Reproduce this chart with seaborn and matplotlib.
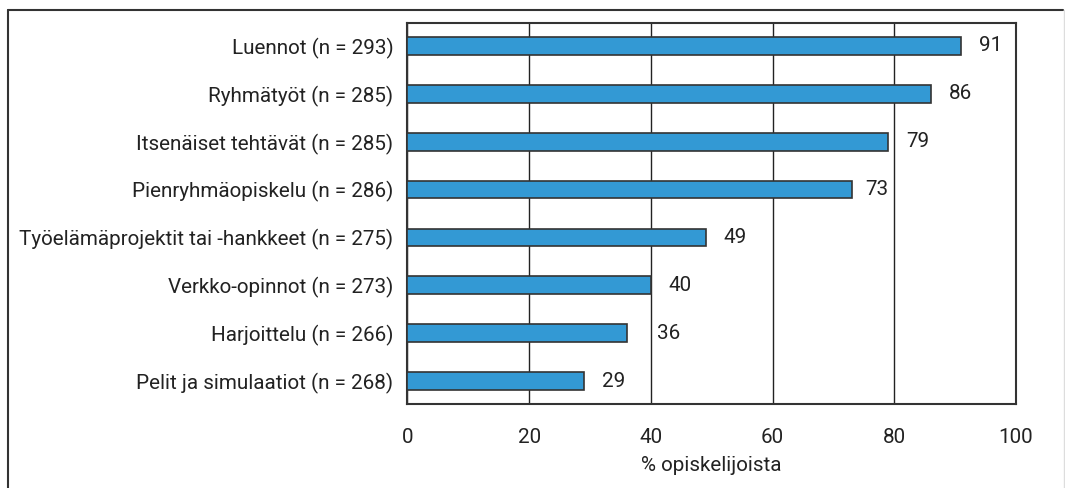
import matplotlib
matplotlib.use("Agg")
import matplotlib.pyplot as plt
import pandas as pd
import seaborn as sns
from matplotlib.lines import Line2D

categories = [
    "Luennot (n = 293)",
    "Ryhmätyöt (n = 285)",
    "Itsenäiset tehtävät (n = 285)",
    "Pienryhmäopiskelu (n = 286)",
    "Työelämäprojektit tai -hankkeet (n = 275)",
    "Verkko-opinnot (n = 273)",
    "Harjoittelu (n = 266)",
    "Pelit ja simulaatiot (n = 268)",
]
values = [91, 86, 79, 73, 49, 40, 36, 29]
x_ticks = [0, 20, 40, 60, 80, 100]

df = pd.DataFrame({"category": categories, "value": values})

sns.set_style("white")
plt.rcParams["font.family"] = ["Roboto", "DejaVu Sans"]
fs = 14.9
txt = "#222222"

fig = plt.figure(figsize=(10.65, 4.88), dpi=100)
ax = fig.add_axes([0.3826, 0.1721, 0.954 - 0.3826, 0.9529 - 0.1721])

sns.barplot(
    data=df, x="value", y="category", orient="h", ax=ax,
    color="#3399d4", saturation=1, width=0.37,
    edgecolor="#333333", linewidth=1.2, zorder=3,
)

# value labels, nudged so they don't sit on a gridline
label_w = 3.8
for i, v in enumerate(values):
    start = v + 2.9
    for g in x_ticks[1:-1]:
        if start - 0.5 < g < start + label_w + 0.5:
            if g - (v + 1.5) >= label_w + 0.5:
                start = v + 2.2
            else:
                start = g + 1.0
    ax.text(start, i, f"{v}", va="center", ha="left", fontsize=fs, color=txt)

ax.set_xlim(0, 100)
ax.set_ylim(7.48, -0.48)
ax.set_xticks(x_ticks)
ax.grid(True, axis="x", color="#222222", linewidth=1.0, zorder=0)
ax.grid(False, axis="y")
ax.set_axisbelow(True)
for s in ax.spines.values():
    s.set_visible(True)
    s.set_color("#333333")
    s.set_linewidth(1.5)
ax.tick_params(axis="x", length=0, pad=17, labelsize=fs, labelcolor=txt)
ax.tick_params(axis="y", length=0, pad=10, labelsize=fs, labelcolor=txt)
ax.set_ylabel("")
ax.set_xlabel("% opiskelijoista", fontsize=fs, color=txt, labelpad=7)

# outer frame
fig.add_artist(Line2D([7.5 / 1065, 7.5 / 1065], [0, 1 - 9.5 / 488], transform=fig.transFigure, color="#333333", lw=1.5))
fig.add_artist(Line2D([7.5 / 1065, 1063 / 1065], [1 - 9.5 / 488, 1 - 9.5 / 488], transform=fig.transFigure, color="#333333", lw=1.5))
fig.add_artist(Line2D([1063.5 / 1065, 1063.5 / 1065], [0, 1 - 9.5 / 488], transform=fig.transFigure, color="#dddddd", lw=1))

fig.savefig("out.png", dpi=100)
